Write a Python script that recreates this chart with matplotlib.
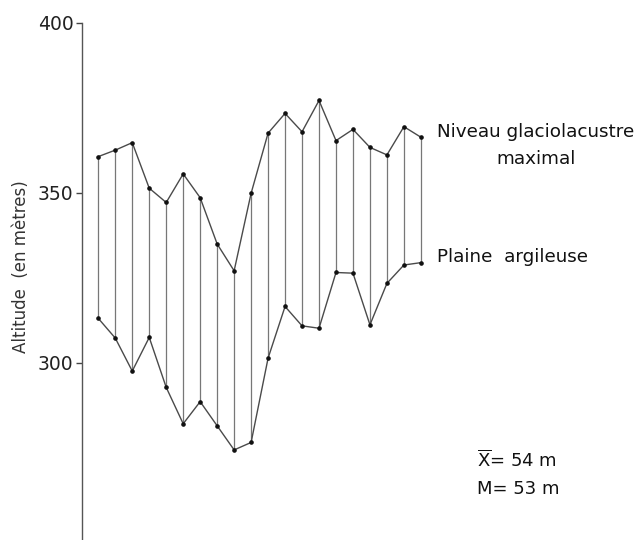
import matplotlib
matplotlib.use("Agg")
import matplotlib.pyplot as plt
import numpy as np

# Data
stations = list(range(1, 21))
niveau_max = [360.7, 362.6, 364.8, 351.4, 347.2, 355.6, 348.6, 335.0, 327.1, 349.9,
              367.6, 373.4, 368.0, 377.2, 365.4, 368.7, 363.4, 361.2, 369.5, 366.4]
plaine = [313.1, 307.3, 297.6, 307.5, 292.8, 282.1, 288.6, 281.5, 274.4, 276.6,
          301.4, 316.6, 310.9, 310.2, 326.6, 326.4, 311.2, 323.4, 328.8, 329.5]
yticks = [300, 350, 400]

W, H = 636, 540
fig = plt.figure(figsize=(W / 100, H / 100), dpi=100)
ax = fig.add_axes([82 / W, 0, (W - 82) / W, (H - 23) / H])

ax.vlines(stations, plaine, niveau_max, colors="#777777", linewidth=0.9)
ax.plot(stations, niveau_max, color="#4a4a4a", linewidth=1.0,
        marker="o", markersize=2.3, markerfacecolor="#111111", markeredgecolor="#111111")
ax.plot(stations, plaine, color="#4a4a4a", linewidth=1.0,
        marker="o", markersize=2.3, markerfacecolor="#111111", markeredgecolor="#111111")

ax.set_xlim(0.04, 32.67)
ax.set_ylim(247.9, 400)
ax.set_yticks(yticks)
ax.set_yticklabels([str(v) for v in yticks], fontsize=13.5, color="#222222")
ax.tick_params(axis="y", direction="out", length=4, width=1, color="#444444", pad=2)
ax.set_xticks([])
for s in ["top", "right", "bottom"]:
    ax.spines[s].set_visible(False)
ax.spines["left"].set_color("#555555")
ax.spines["left"].set_linewidth(1.0)

ax.set_ylabel("Altitude  (en mètres)", fontsize=12, color="#333333")
ax.yaxis.set_label_coords((30 - 82) / (W - 82), (H - 267) / (H - 23))

fig.text(437 / W, 1 - 132 / H, "Niveau glaciolacustre", fontsize=13.2, color="#111111",
         ha="left", va="center")
fig.text(536 / W, 1 - 159 / H, "maximal", fontsize=13.2, color="#111111",
         ha="center", va="center")
fig.text(437 / W, 1 - 257 / H, "Plaine  argileuse", fontsize=13.2, color="#111111",
         ha="left", va="center")
fig.text(477 / W, 1 - 460 / H, r"$\overline{\mathrm{X}}$= 54 m", fontsize=13, color="#111111",
         ha="left", va="center")
fig.text(477 / W, 1 - 489 / H, "M= 53 m", fontsize=13, color="#111111",
         ha="left", va="center")

fig.savefig("out.png", dpi=100, facecolor="white")
